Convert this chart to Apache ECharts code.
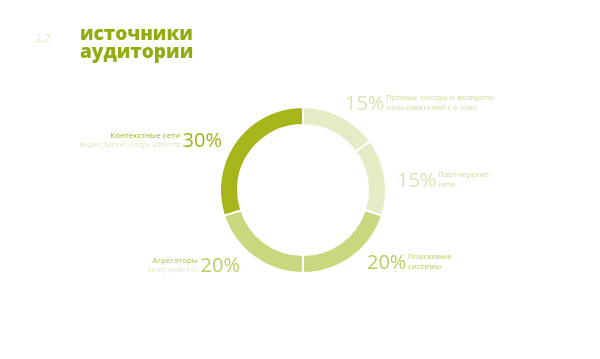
<!DOCTYPE html>
<html><head><meta charset="utf-8">
<script src="https://cdn.jsdelivr.net/npm/echarts@6/dist/echarts.min.js"></script>
<style>html,body{margin:0;padding:0;background:#fff}#c{width:600px;height:359px}</style>
</head><body><div id="c"></div>
<script>
const sectionNo = '2.2';
const titleLines = ['источники', 'аудитории'];
const categories = ['Прямые заходы и возвраты\nпользователей с e-mail', 'Партнерские\nсети', 'Поисковые\nсистемы', 'Агрегаторы', 'Контекстные сети'];
const subtitles = ['', '', '', 'Realty.yandex.ru', 'Яндекс Директ, Google AdWords'];
const values = [15, 15, 20, 20, 30];
const colors = ['#e4ecc6', '#e4ecc6', '#c9d87f', '#c9d87f', '#a6b519'];
const pctColors = ['#dbe5b3', '#dbe5b3', '#bccd63', '#bccd63', '#a2b31a'];
const txtColors = ['#d2dca2', '#d2dca2', '#bccd63', '#b3c45a', '#a2b31a'];

const chart = echarts.init(document.getElementById('c'), null, {renderer: 'canvas'});
const anchors = [[345, 104, 'r'], [397, 181, 'r'], [367, 263, 'r'], [240, 266, 'l'], [222, 141, 'l']];
const graphics = [
  {type: 'text', left: 35, top: 33, style: {text: sectionNo, font: '11px "Open Sans"', fill: '#e2eac2'}},
  {type: 'text', left: 80, top: 25, style: {text: titleLines.join('\n'), font: '800 19px "Open Sans"', lineHeight: 18, fill: '#93ab10'}}
];
values.forEach((v, i) => {
  const [x, y, side] = anchors[i];
  const pct = v + '%';
  if (side === 'r') {
    graphics.push({type: 'text', x: x, y: y, style: {text: pct, font: '20px "Open Sans"', fill: pctColors[i], verticalAlign: 'middle', align: 'left'}});
    graphics.push({type: 'text', x: x + 41, y: y - 1, style: {text: categories[i], font: '8px "Open Sans"', lineHeight: 10, fill: txtColors[i], verticalAlign: 'middle', align: 'left'}});
  } else {
    graphics.push({type: 'text', x: x, y: y, style: {text: pct, font: '20px "Open Sans"', fill: pctColors[i], verticalAlign: 'middle', align: 'right'}});
    graphics.push({type: 'text', x: x - 42, y: y - 5, style: {text: categories[i], font: '8px "Open Sans"', fill: txtColors[i], verticalAlign: 'middle', align: 'right'}});
    graphics.push({type: 'text', x: x - 42, y: y + 4, style: {text: subtitles[i], font: '6.5px "Open Sans"', fill: '#e0e7c4', verticalAlign: 'middle', align: 'right'}});
  }
});

chart.setOption({
  backgroundColor: '#ffffff',
  animation: false,
  graphic: graphics,
  series: [{
    type: 'pie',
    center: [303, 190],
    radius: [65, 83],
    startAngle: 90,
    clockwise: true,
    label: {show: false},
    labelLine: {show: false},
    itemStyle: {borderColor: '#ffffff', borderWidth: 2},
    data: values.map((v, i) => ({value: v, name: categories[i], itemStyle: {color: colors[i]}}))
  }]
});
</script></body></html>
